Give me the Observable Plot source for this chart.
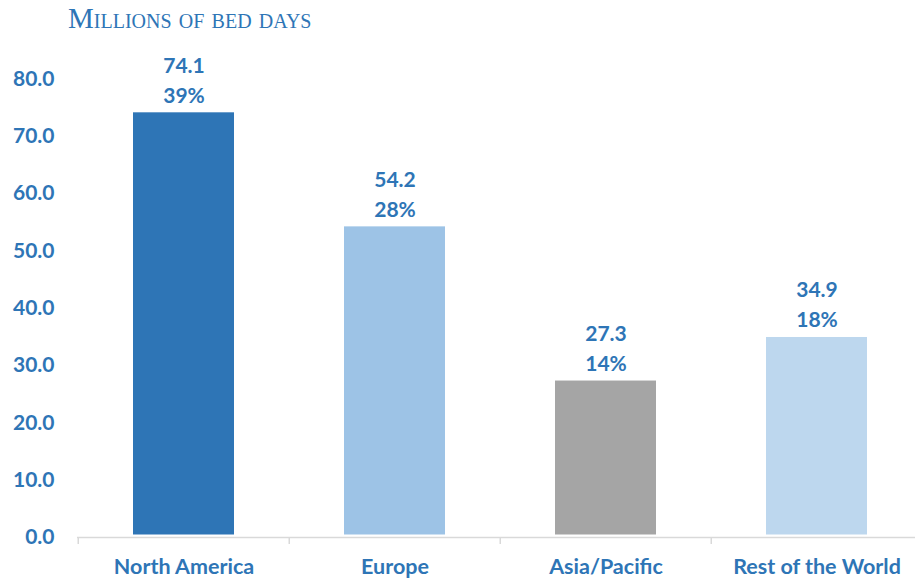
<!DOCTYPE html>
<html>
<head>
<meta charset="utf-8">
<script src="https://cdn.jsdelivr.net/npm/d3@7"></script>
<script src="https://cdn.jsdelivr.net/npm/@observablehq/plot@0.6"></script>
<style>
  html, body { margin: 0; padding: 0; background: #fff; }
  #title {
    box-sizing: border-box; height: 40px; padding: 4px 0 0 68px;
    font-family: "Liberation Serif", serif; font-size: 29px; line-height: 28px;
    font-variant: small-caps; color: #2e75b6; white-space: nowrap;
  }
</style>
</head>
<body>
<div id="title">Millions of bed days</div>
<div id="chart"></div>
<script>
const categories = ["North America", "Europe", "Asia/Pacific", "Rest of the World"];
const values = [74.1, 54.2, 27.3, 34.9];
const shares = ["39%", "28%", "14%", "18%"];
const barColors = ["#2e75b6", "#9dc3e6", "#a5a5a5", "#bdd7ee"];
const yTicks = [0, 10, 20, 30, 40, 50, 60, 70, 80];

const data = categories.map((c, i) => ({category: c, value: values[i], share: shares[i]}));

const textColor = "#2e75b6";
const W = 915, H = 539;
const xRange = [77, 923];
const step = (xRange[1] - xRange[0]) / categories.length;

const chart = Plot.plot({
  width: W,
  height: H,
  marginLeft: 77,
  marginRight: 0,
  marginTop: 38.5,
  marginBottom: 42,
  style: {fontFamily: "Lato, sans-serif", background: "transparent", overflow: "visible"},
  x: {domain: categories, range: xRange, paddingInner: 0.52, paddingOuter: 0.26, label: null},
  y: {domain: [0, 80], label: null},
  color: {domain: categories, range: barColors},
  marks: [
    Plot.barY(data, {x: "category", y: "value", fill: "category", insetBottom: 2.5}),
    Plot.ruleY([0], {stroke: "#d9d9d9", strokeWidth: 1.5}),
    Plot.ruleX(categories, {x: d => d, dx: -step / 2, y1: 0, y2: 0, insetBottom: -7, stroke: "#d9d9d9", strokeWidth: 1.5}),
    Plot.axisY(yTicks, {tickSize: 0, tickPadding: 23, tickFormat: d3.format(".1f"), fill: textColor, fontSize: 21, fontWeight: "bold", label: null}),
    Plot.axisX({tickSize: 0, tickPadding: 21, fill: textColor, fontSize: 21.5, fontWeight: "bold", label: null}),
    Plot.text(data, {x: "category", y: "value", text: d => d.value.toFixed(1), lineAnchor: "bottom", dy: -40, fill: textColor, fontSize: 21, fontWeight: "bold"}),
    Plot.text(data, {x: "category", y: "value", text: "share", lineAnchor: "bottom", dy: -10, fill: textColor, fontSize: 21, fontWeight: "bold"})
  ]
});
document.getElementById("chart").append(chart);
</script>
</body>
</html>
